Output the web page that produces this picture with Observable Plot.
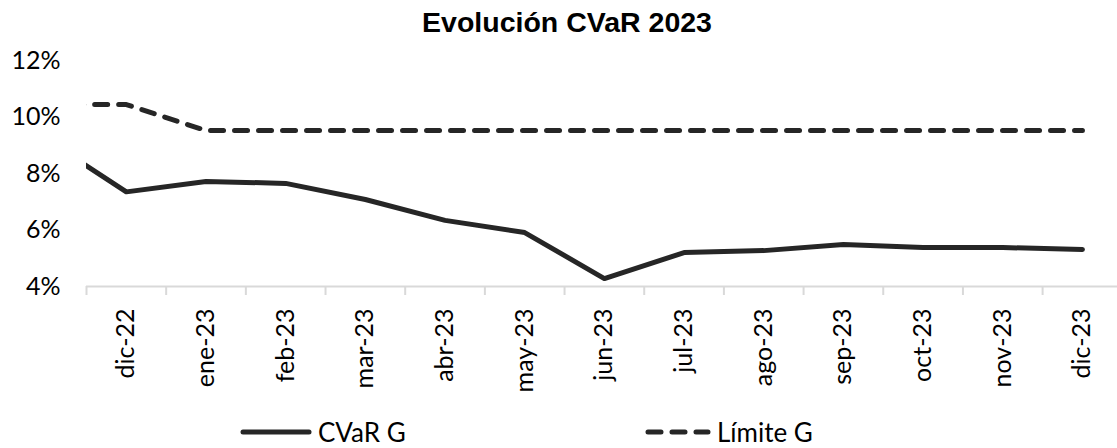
<!DOCTYPE html>
<html>
<head>
<meta charset="utf-8">
<script src="https://cdn.jsdelivr.net/npm/d3@7"></script>
<script src="https://cdn.jsdelivr.net/npm/@observablehq/plot@0.6"></script>
<style>
  html, body { margin: 0; padding: 0; background: #fff; }
  #wrap { position: relative; width: 1117px; height: 448px; overflow: hidden; }
  #title { width: 1117px; height: 40px; line-height: 44px; box-sizing: border-box; padding-left: 17px;
    text-align: center; font-family: "Liberation Sans", Arial, sans-serif; font-weight: bold; font-size: 28.5px; color: #000; }
  #legend { position: relative; width: 1117px; height: 43px; font-family: Lato, sans-serif; font-size: 26px; color: #000; }
  .item { position: absolute; top: 12px; height: 30px; display: flex; align-items: center; }
  .item span { margin-left: 6px; }
</style>
</head>
<body>
<div id="wrap">
  <div id="title">Evolución CVaR 2023</div>
  <div id="chart"></div>
  <div id="legend"></div>
</div>
<script>
// Months (first one, nov-22, lies just outside the visible plot and is clipped)
const months = ["nov-22","dic-22","ene-23","feb-23","mar-23","abr-23","may-23","jun-23","jul-23","ago-23","sep-23","oct-23","nov-23","dic-23"];
// CVaR G (%)
const cvar = [9.2, 7.35, 7.72, 7.65, 7.08, 6.34, 5.91, 4.28, 5.20, 5.27, 5.49, 5.38, 5.38, 5.31];
// Límite G (%)
const limite = [10.44, 10.44, 9.52, 9.52, 9.52, 9.52, 9.52, 9.52, 9.52, 9.52, 9.52, 9.52, 9.52, 9.52];
// Y tick values (%)
const yTicks = [4, 6, 8, 10, 12];

const seriesNames = ["CVaR G", "Límite G"];
const rows = months.flatMap((m, i) => [
  {i, mes: m, serie: seriesNames[0], v: cvar[i]},
  {i, mes: m, serie: seriesNames[1], v: limite[i]}
]);
const labelIdx = d3.range(1, months.length);
const boundaries = d3.range(0.5, months.length - 1, 1);

const lineColor = "#262626";
const gridColor = "#d9d9d9";

const plot = Plot.plot({
  width: 1117,
  height: 365,
  marginLeft: 86,
  marginRight: 0,
  marginTop: 20,
  marginBottom: 119,
  style: {fontFamily: "Lato, sans-serif", fontSize: "25px", color: "#000", background: "transparent"},
  x: {type: "linear", domain: [0.5, months.length - 0.56], label: null},
  y: {domain: [4, 12], label: null},
  marks: [
    Plot.ruleY([4], {stroke: gridColor, strokeWidth: 2}),
    Plot.axisX({ticks: boundaries, tickFormat: () => "", tickSize: 9, stroke: gridColor, strokeWidth: 2, label: null}),
    Plot.axisX({ticks: labelIdx, tickFormat: i => months[i], tickSize: 0, tickPadding: 22, tickRotate: -90, fontSize: 25, label: null}),
    Plot.axisY({ticks: yTicks, tickFormat: d => d + "%", tickSize: 0, tickPadding: 26, fontSize: 25, label: null}),
    Plot.line(rows.filter(d => d.serie === seriesNames[0]), {x: "i", y: "v", stroke: lineColor, strokeWidth: 5, strokeLinejoin: "round", clip: true}),
    Plot.line(rows.filter(d => d.serie === seriesNames[1]), {x: "i", y: "v", stroke: lineColor, strokeWidth: 5, strokeLinejoin: "round", strokeLinecap: "round", strokeDasharray: "13,11", clip: true})
  ]
});
document.getElementById("chart").appendChild(plot);

const legend = document.getElementById("legend");
const items = [
  {name: seriesNames[0], left: 240, dash: null},
  {name: seriesNames[1], left: 645, dash: "13,11"}
];
for (const it of items) {
  const div = document.createElement("div");
  div.className = "item";
  div.style.left = it.left + "px";
  const w = it.dash ? 66 : 72;
  div.innerHTML = `<svg width="${w}" height="10"><line x1="3" y1="5" x2="${w - 3}" y2="5" stroke="${lineColor}" stroke-width="5" stroke-linecap="round" ${it.dash ? `stroke-dasharray="${it.dash}"` : ""}/></svg><span>${it.name}</span>`;
  legend.appendChild(div);
}
</script>
</body>
</html>
